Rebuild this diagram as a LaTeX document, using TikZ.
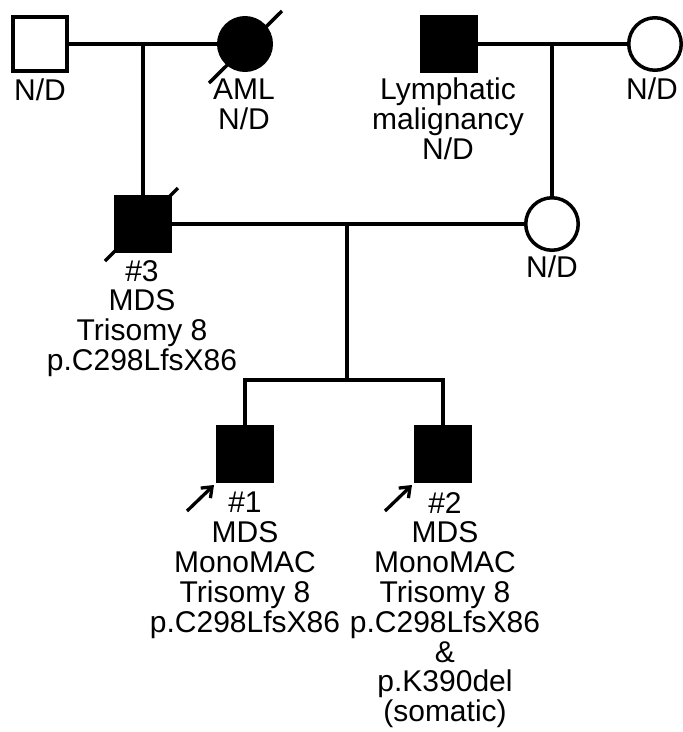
\documentclass[tikz,border=0pt]{standalone}
\usepackage{fontspec}
\setmainfont{Liberation Sans}
\usetikzlibrary{arrows.meta}
\begin{document}
\begin{tikzpicture}[x=1pt,y=-1pt,
  ln/.style={line width=3.5pt},
  male/.style={draw,ln,rectangle,minimum size=54pt,inner sep=0},
  female/.style={draw,ln,circle,minimum size=52.5pt,inner sep=0},
  aff/.style={fill=black},
  unaff/.style={fill=white},
  lbl/.style={font=\fontsize{30}{29.8}\selectfont,align=center,inner sep=0,anchor=north},
  proband/.style={line width=3.3pt,-{Straight Barb[length=9pt,width=14pt,line width=3.3pt]}}]
\useasboundingbox[fill=white] (0,0) rectangle (683,732);
% generation I
\node[male,unaff] (gf1) at (40,44) {};
\node[female,aff] (gm1) at (245,44) {};
\node[male,aff] (gf2) at (449,44) {};
\node[female,unaff] (gm2) at (655,44) {};
% generation II
\node[male,aff] (p3) at (143,224) {};
\node[female,unaff] (mo) at (552,224) {};
% generation III
\node[male,aff] (p1) at (245,454) {};
\node[male,aff] (p2) at (443,454) {};
% deceased slashes
\coordinate (d1a) at (209,83); \coordinate (d1b) at (282,11);
\draw[ln] (d1a) -- (d1b);
\coordinate (d3a) at (105,261); \coordinate (d3b) at (178,188);
\draw[ln] (d3a) -- (d3b);
% lines
\coordinate (m1) at (143,44);
\coordinate (m2) at (552,44);
\coordinate (m3) at (347,224);
\coordinate (sib) at (347,380);
\coordinate (sibL) at (245,380);
\coordinate (sibR) at (443,380);
\draw[ln] (gf1.east) -- (gm1.west);
\draw[ln] (m1) -- (p3.north);
\draw[ln] (gf2.east) -- (gm2.west);
\draw[ln] (m2) -- (mo.north);
\draw[ln] (p3.east) -- (mo.west);
\draw[ln] (m3) -- (sib);
\draw[ln,line cap=rect] (sibL) -- (sibR);
\draw[ln] (sibL) -- (p1.north);
\draw[ln] (sibR) -- (p2.north);
% proband arrows
\coordinate (a1s) at (187,511); \coordinate (a1e) at (214,485);
\coordinate (a2s) at (385,511); \coordinate (a2e) at (412,485);
\draw[proband] (a1s) -- (a1e);
\draw[proband] (a2s) -- (a2e);
% labels
\node[lbl] (t1) at (40,79) {N/D};
\node[lbl] (t2) at (244,79) {AML\\N/D};
\node[lbl] (t3) at (448,78) {Lymphatic\\malignancy\\N/D};
\node[lbl] (t4) at (652,78) {N/D};
\node[lbl] (t5) at (142,260) {\#3\\MDS\\Trisomy 8\\p.C298LfsX86};
\node[lbl] (t6) at (552,256) {N/D};
\node[lbl] (t7) at (245,492) {\#1\\MDS\\MonoMAC\\Trisomy 8\\p.C298LfsX86};
\node[lbl] (t8) at (445,492) {\#2\\MDS\\MonoMAC\\Trisomy 8\\p.C298LfsX86\\\&\\p.K390del\\(somatic)};
\end{tikzpicture}
\end{document}
